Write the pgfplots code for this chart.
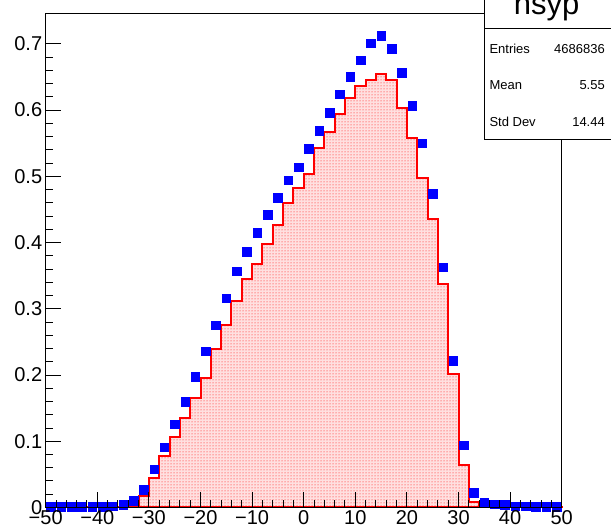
\documentclass[border=0pt]{standalone}
\usepackage{fontspec}
\setmainfont{Liberation Sans}
\usepackage{pgfplots}
\pgfplotsset{compat=1.18}
\usetikzlibrary{patterns}
\begin{document}
\begin{tikzpicture}
\useasboundingbox (-45.7pt,-19.5pt) rectangle (565.3pt,507.5pt);
\begin{axis}[at={(0pt,0pt)},anchor=south west,scale only axis,
  width=516pt,height=493.5pt,
  xmin=-50,xmax=50,ymin=0,ymax=0.745,
  hide axis, clip=false]
\addplot[red,line width=2pt,const plot,fill=red!12,postaction={pattern=dots,pattern color=red}] table {
x y
-50 0.0005
-48 0.0005
-46 0.0005
-44 0.0005
-42 0.0005
-40 0.0005
-38 0.0005
-36 0.0005
-34 0.003
-32 0.017
-30 0.045
-28 0.078
-26 0.106
-24 0.135
-22 0.166
-20 0.196
-18 0.239
-16 0.275
-14 0.311
-12 0.345
-10 0.368
-8 0.398
-6 0.426
-4 0.459
-2 0.483
0 0.504
2 0.542
4 0.567
6 0.594
8 0.618
10 0.636
12 0.645
14 0.655
16 0.645
18 0.603
20 0.558
22 0.497
24 0.435
26 0.338
28 0.202
30 0.064
32 0.008
34 0.003
36 0.0005
38 0.0005
40 0.0005
42 0.0005
44 0.0005
46 0.0005
48 0.0005
50 0.0005
} \closedcycle;
\addplot[only marks,mark=square*,mark size=4.3pt,color=blue,mark options={fill=blue,draw=blue}] table {
x y
-49 0.001
-47 0.001
-45 0.001
-43 0.001
-41 0.001
-39 0.001
-37 0.002
-35 0.004
-33 0.010
-31 0.027
-29 0.058
-27 0.091
-25 0.126
-23 0.160
-21 0.197
-19 0.236
-17 0.275
-15 0.316
-13 0.357
-11 0.386
-9 0.415
-7 0.442
-5 0.468
-3 0.494
-1 0.514
1 0.542
3 0.569
5 0.596
7 0.624
9 0.650
11 0.675
13 0.701
15 0.712
17 0.693
19 0.656
21 0.607
23 0.550
25 0.474
27 0.363
29 0.222
31 0.094
33 0.022
35 0.008
37 0.005
39 0.004
41 0.002
43 0.002
45 0.001
47 0.001
49 0.001
};
\end{axis}
\begin{axis}[at={(0pt,0pt)},anchor=south west,scale only axis,
  width=516pt,height=493.5pt,
  xmin=-50,xmax=50,ymin=0,ymax=0.745,
  tick align=inside, xtick pos=left, ytick pos=left,
  major tick length=15pt, minor tick length=7.5pt,
  tick style={black,line width=1pt},
  axis line style={line width=1pt},
  xtick={-50,-40,-30,-20,-10,0,10,20,30,40,50},
  xticklabels={−50,−40,−30,−20,−10,0,10,20,30,40,50},
  ytick={0,0.1,0.2,0.3,0.4,0.5,0.6,0.7},
  yticklabels={0,0.1,0.2,0.3,0.4,0.5,0.6,0.7},
  minor x tick num=4, minor y tick num=4,
  ticklabel style={font=\fontsize{20}{20}\selectfont}]
\end{axis}
\fill[white] (438.3pt,368.2pt) rectangle (580pt,520pt);
\draw[line width=1pt] (580pt,479.2pt) -- (438.3pt,479.2pt) -- (438.3pt,520pt);
\draw[line width=1pt] (580pt,368.2pt) -- (438.3pt,368.2pt) -- (438.3pt,479.2pt);
\node[anchor=base,inner sep=0] at (501pt,492.5pt) {\fontsize{31}{31}\selectfont nsyp};
\node[anchor=base west,inner sep=0] at (443.6pt,454.2pt) {\fontsize{13}{13}\selectfont Entries};
\node[anchor=base east,inner sep=0] at (559.3pt,454.2pt) {\fontsize{13}{13}\selectfont 4686836};
\node[anchor=base west,inner sep=0] at (443.6pt,418.2pt) {\fontsize{13}{13}\selectfont Mean};
\node[anchor=base east,inner sep=0] at (559.3pt,418.2pt) {\fontsize{13}{13}\selectfont 5.55};
\node[anchor=base west,inner sep=0] at (443.6pt,380.8pt) {\fontsize{13}{13}\selectfont Std Dev};
\node[anchor=base east,inner sep=0] at (559.3pt,380.8pt) {\fontsize{13}{13}\selectfont 14.44};
\end{tikzpicture}
\end{document}
